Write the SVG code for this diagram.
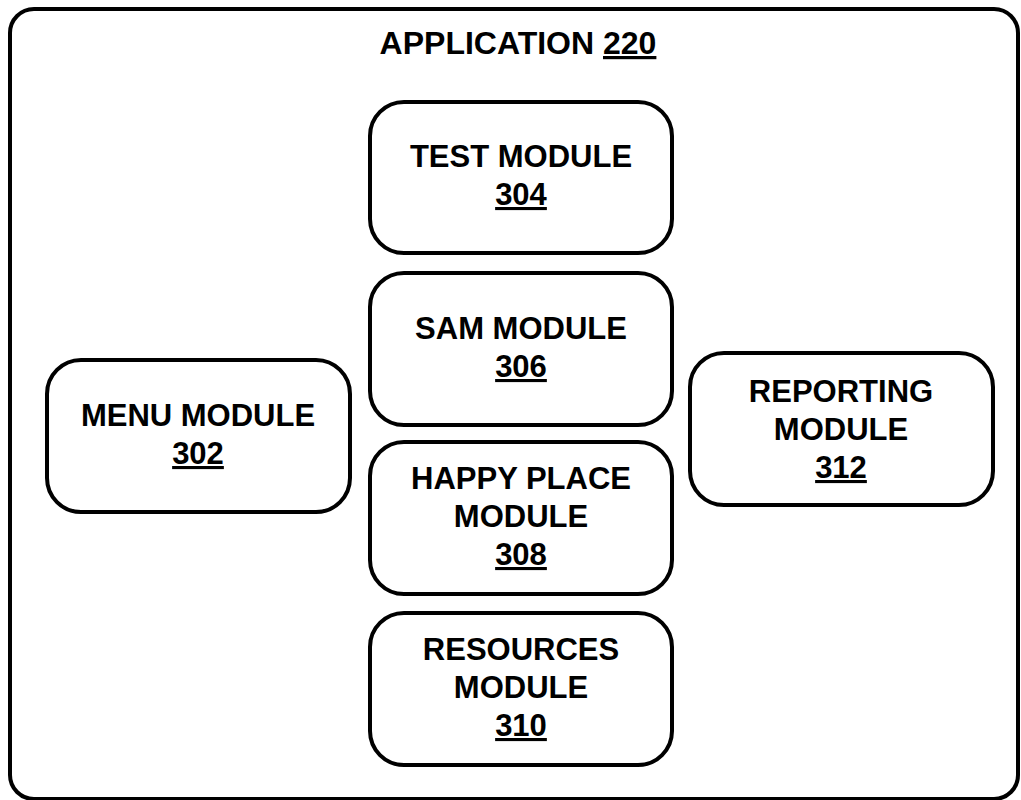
<svg xmlns="http://www.w3.org/2000/svg" width="1021" height="800" viewBox="0 0 1021 800">
<style>
.box{fill:#fff;stroke:#000;stroke-width:4}
.frame{fill:#fff;stroke:#000;stroke-width:4}
text{font-family:"Liberation Sans",Arial,sans-serif;font-weight:bold;font-size:31px;fill:#000;text-anchor:middle}
.title{font-size:32px}
.u{text-decoration:underline}
</style>
<rect width="1021" height="800" fill="#fff"/>
<g id="application">
<rect class="frame" x="10" y="9" width="1008" height="790" rx="24" ry="24"/>
<text class="title" x="518" y="54">APPLICATION <tspan class="u">220</tspan></text>
</g>
<g id="connectors"></g>
<g id="test-module">
<rect class="box" x="370" y="102" width="302" height="151" rx="34" ry="34"/>
<text x="521" y="167">TEST MODULE</text>
<text class="u" x="521" y="205">304</text>
</g>
<g id="sam-module">
<rect class="box" x="370" y="273" width="302" height="152" rx="34" ry="34"/>
<text x="521" y="339">SAM MODULE</text>
<text class="u" x="521" y="377">306</text>
</g>
<g id="happy-place-module">
<rect class="box" x="370" y="442" width="302" height="152" rx="34" ry="34"/>
<text x="521" y="489">HAPPY PLACE</text>
<text x="521" y="527">MODULE</text>
<text class="u" x="521" y="565">308</text>
</g>
<g id="resources-module">
<rect class="box" x="370" y="613" width="302" height="152" rx="34" ry="34"/>
<text x="521" y="660">RESOURCES</text>
<text x="521" y="698">MODULE</text>
<text class="u" x="521" y="736">310</text>
</g>
<g id="menu-module">
<rect class="box" x="47" y="360" width="303" height="152" rx="34" ry="34"/>
<text x="198" y="426">MENU MODULE</text>
<text class="u" x="198" y="464">302</text>
</g>
<g id="reporting-module">
<rect class="box" x="690" y="353" width="303" height="152" rx="34" ry="34"/>
<text x="841" y="402">REPORTING</text>
<text x="841" y="440">MODULE</text>
<text class="u" x="841" y="478">312</text>
</g>
</svg>
